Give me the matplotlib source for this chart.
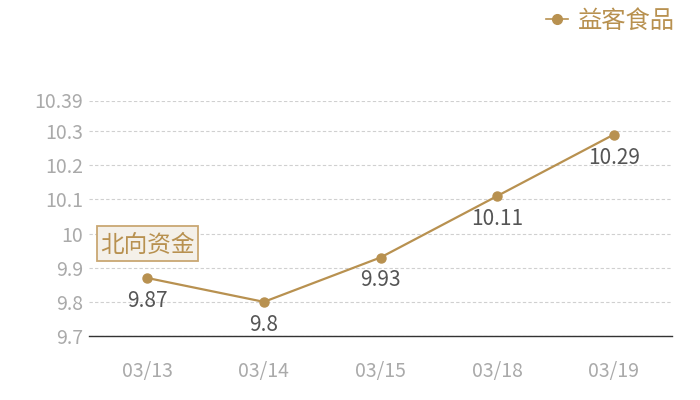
import matplotlib
matplotlib.use("Agg")
import matplotlib.pyplot as plt
from matplotlib.lines import Line2D
from matplotlib.patches import Rectangle

plt.rcParams['font.family'] = ['Noto Sans CJK SC', 'DejaVu Sans']

dates = ["03/13", "03/14", "03/15", "03/18", "03/19"]
values = [9.87, 9.8, 9.93, 10.11, 10.29]
yticks = [9.7, 9.8, 9.9, 10.0, 10.1, 10.2, 10.3, 10.39]
ytick_labels = ["9.7", "9.8", "9.9", "10", "10.1", "10.2", "10.3", "10.39"]
series_name = "益客食品"
tag_text = "北向资金"

gold = "#b89150"
W, H = 700, 400
fig = plt.figure(figsize=(7, 4), dpi=100)
ax = fig.add_axes([89/W, 1-336/H, (672-89)/W, (336-100.5)/H])

x = list(range(len(dates)))
ax.plot(x, values, color=gold, lw=1.6, marker='o', ms=6.5, mfc=gold, mec=gold, zorder=3)
for xi, v in zip(x, values):
    ax.annotate(f"{v:g}", (xi, v), xytext=(0, -16.5), textcoords='offset points',
                ha='center', va='center', fontsize=15, color='#555555')

ax.set_xlim(-0.5, len(dates) - 0.5)
ax.set_ylim(9.7, 10.39)
ax.set_yticks(yticks)
ax.set_yticklabels(ytick_labels)
ax.set_xticks(x)
ax.set_xticklabels(dates)
ax.tick_params(axis='both', length=0, labelsize=14, colors='#aaaaaa')
ax.tick_params(axis='y', pad=4)
ax.tick_params(axis='x', pad=18)
ax.grid(axis='y', color='#d0d0d0', ls=(0, (3, 2)), lw=0.8)
ax.set_axisbelow(True)
for s in ['top', 'right', 'left']:
    ax.spines[s].set_visible(False)
ax.spines['bottom'].set_color('#333333')
ax.spines['bottom'].set_linewidth(1.0)

h = Line2D([], [], color=gold, lw=1.2, marker='o', ms=7, mfc=gold, mec=gold)
fig.legend([h], [series_name], loc='upper right', bbox_to_anchor=(0.995, 1.035),
           frameon=False, fontsize=17.5, labelcolor=gold, handlelength=0.9,
           handletextpad=0.4)

# tag box
fig.patches.append(Rectangle((97/W, 1-261/H), 101/W, 35/H, transform=fig.transFigure,
                             fc='#f4f0e9', ec='#c9a773', lw=1.3, zorder=1))
fig.text(147.5/W, 1-245.5/H, tag_text, ha='center', va='center', fontsize=17,
         color=gold, zorder=2)

fig.savefig("out.png", dpi=100)
